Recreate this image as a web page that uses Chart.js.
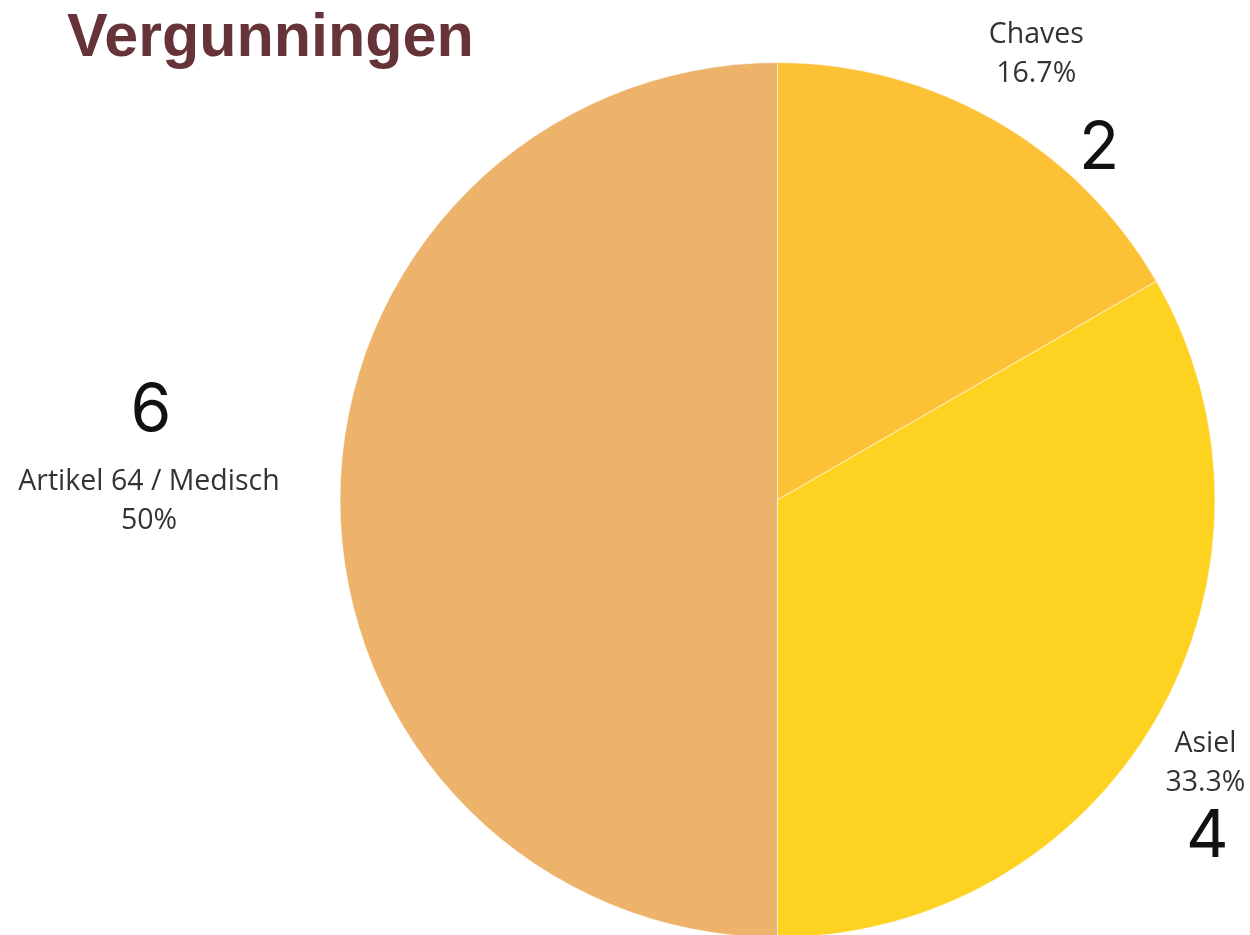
<!DOCTYPE html>
<html>
<head>
<meta charset="utf-8">
<script src="https://cdn.jsdelivr.net/npm/chart.js@4"></script>
<style>
  html, body { margin: 0; padding: 0; background: #fff; overflow: hidden; }
  #wrap { position: relative; width: 1250px; height: 1000px; }
  #title { position: absolute; left: 67px; top: 0px; margin: 0;
    font-family: "Liberation Sans", Arial, sans-serif; font-weight: bold;
    font-size: 61px; color: #663339; line-height: 1.15; }
</style>
</head>
<body>
<div id="wrap">
  <canvas id="c" width="1250" height="1000"></canvas>
  <h1 id="title">Vergunningen</h1>
</div>
<script>
const categories = ["Chaves", "Asiel", "Artikel 64 / Medisch"];
const values = [2, 4, 6];
const percentLabels = ["16.7%", "33.3%", "50%"];
const colors = ["#FDC135", "#FED220", "#EEB36A"];

// label placement offsets relative to the arc's outer mid-point (styles only)
const nameOffsets = [{dx: 40, dy: -78}, {dx: 49, dy: 33}, {dx: -191, dy: -10}];
const numOffsets = [{dx: 103, dy: 48}, {dx: 51, dy: 138}, {dx: -189, dy: -69}];
const lineGap = 39;

const labelPlugin = {
  id: 'outerLabels',
  afterDraw(chart) {
    const ctx = chart.ctx;
    const meta = chart.getDatasetMeta(0);
    meta.data.forEach((arc, i) => {
      const p = arc.getProps(['x', 'y', 'startAngle', 'endAngle', 'outerRadius'], true);
      const mid = (p.startAngle + p.endAngle) / 2;
      const ax = p.x + Math.cos(mid) * p.outerRadius;
      const ay = p.y + Math.sin(mid) * p.outerRadius;
      ctx.save();
      ctx.textAlign = 'center';
      ctx.textBaseline = 'alphabetic';
      ctx.fillStyle = '#333333';
      ctx.font = '400 28.5px "Open Sans", "Noto Sans", sans-serif';
      const n = nameOffsets[i];
      ctx.fillText(chart.data.labels[i], ax + n.dx, ay + n.dy);
      ctx.fillText(percentLabels[i], ax + n.dx, ay + n.dy + lineGap);
      const m = numOffsets[i];
      ctx.fillStyle = '#111111';
      ctx.font = '400 66px Inter, "Noto Sans", sans-serif';
      ctx.fillText(String(chart.data.datasets[0].data[i]), ax + m.dx, ay + m.dy);
      ctx.restore();
    });
  }
};

new Chart(document.getElementById('c'), {
  type: 'pie',
  data: {
    labels: categories,
    datasets: [{
      data: values,
      backgroundColor: colors,
      borderColor: 'rgba(255,255,255,0.6)',
      borderWidth: 1
    }]
  },
  options: {
    responsive: false,
    animation: false,
    layout: { padding: { left: 339, right: 34, top: 62, bottom: 62 } },
    plugins: {
      legend: { display: false },
      tooltip: { enabled: false },
      title: { display: false }
    }
  },
  plugins: [labelPlugin]
});
</script>
</body>
</html>
